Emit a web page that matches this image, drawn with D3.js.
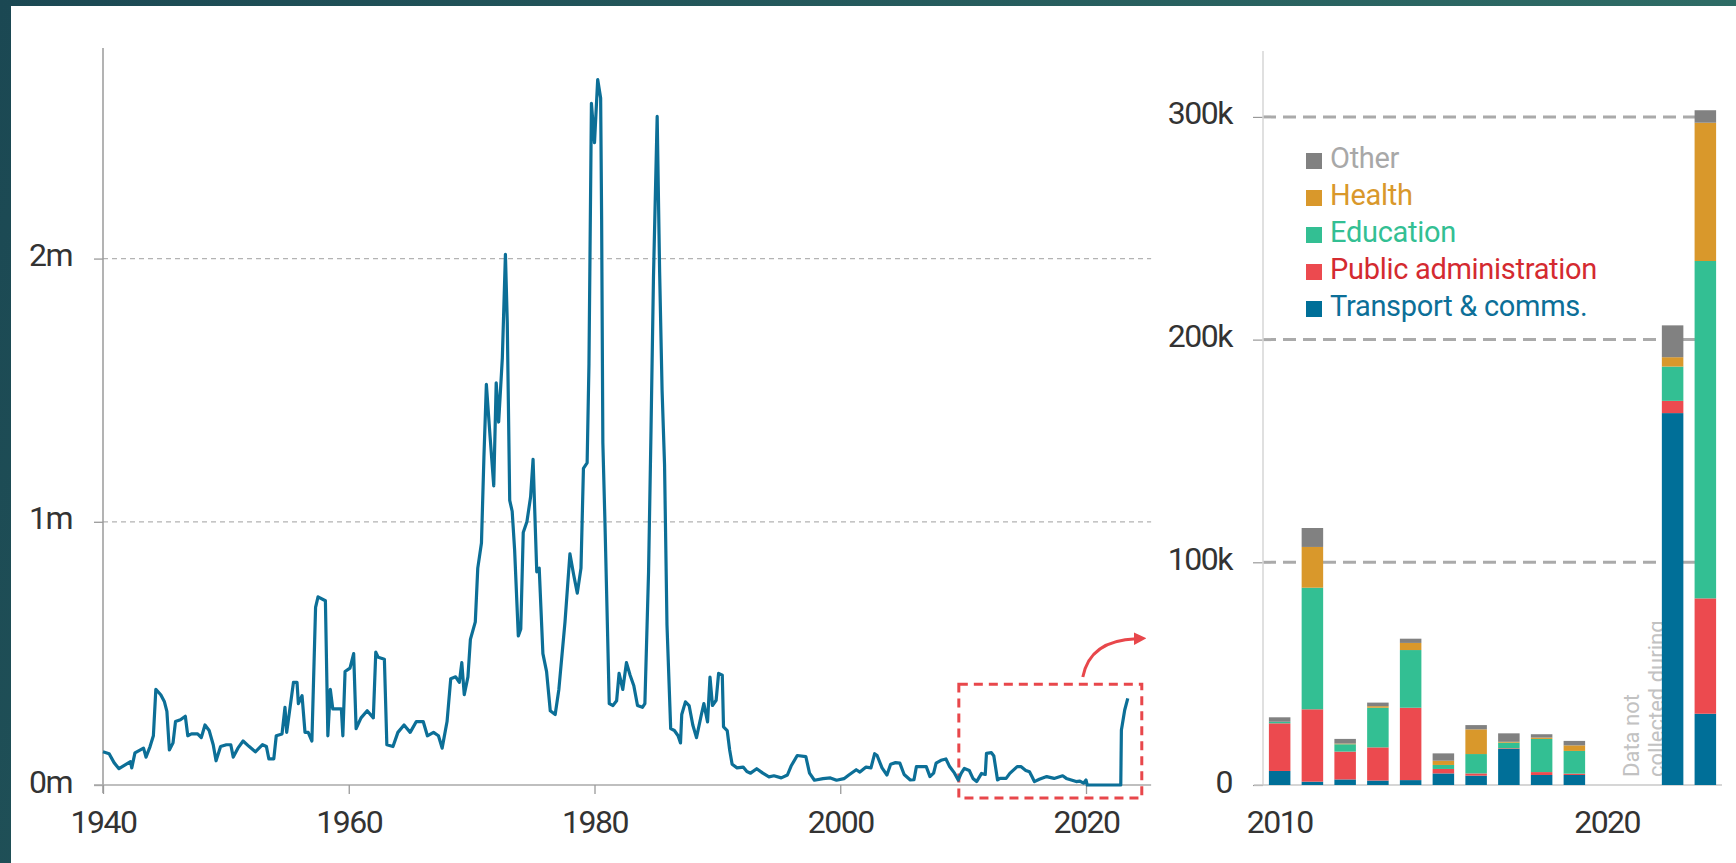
<!DOCTYPE html>
<html>
<head>
<meta charset="utf-8">
<script src="https://cdn.jsdelivr.net/npm/d3@7"></script>
<style>
  html, body { margin: 0; padding: 0; background: #fff; }
  svg { display: block; }
  text { font-family: Roboto, "Noto Sans", sans-serif; font-weight: 400; }
</style>
</head>
<body>
<svg id="chart" width="1736" height="863"></svg>
<script>
// ---- Long-run series (millions), 1940–2023 ----
const lineYears = [
  1940.0, 1940.5, 1940.9, 1941.3, 1941.9, 1942.24, 1942.34, 1942.6, 1943.3, 1943.5, 1943.83, 1944.1, 1944.3, 1944.7,
  1945.0, 1945.2, 1945.4, 1945.7, 1945.9, 1946.3, 1946.7, 1946.9, 1947.2, 1947.7, 1948.0, 1948.3, 1948.64, 1948.97,
  1949.2, 1949.57, 1950.04, 1950.4, 1950.6, 1950.98, 1951.4, 1951.9, 1952.4, 1952.98, 1953.3, 1953.5, 1953.9, 1954.1,
  1954.57, 1954.81, 1954.95, 1955.5, 1955.79, 1955.9, 1956.2, 1956.44, 1956.7, 1957.0, 1957.3, 1957.5, 1958.1, 1958.3,
  1958.5, 1958.7, 1959.4, 1959.52, 1959.7, 1960.1, 1960.4, 1960.6, 1961.0, 1961.5, 1962.0, 1962.2, 1962.4, 1962.9,
  1963.1, 1963.6, 1964.0, 1964.5, 1965.0, 1965.5, 1966.06, 1966.4, 1966.9, 1967.3, 1967.6, 1968.0, 1968.3, 1968.7,
  1969.0, 1969.2, 1969.4, 1969.7, 1969.9, 1970.3, 1970.5, 1970.8, 1971.0, 1971.2, 1971.5, 1971.8, 1972.0, 1972.2,
  1972.5, 1972.75, 1972.9, 1973.1, 1973.3, 1973.5, 1973.8, 1974.0, 1974.2, 1974.5, 1974.8, 1975.0, 1975.3, 1975.5,
  1975.8, 1976.1, 1976.4, 1976.8, 1977.1, 1977.6, 1978.0, 1978.3, 1978.6, 1978.9, 1979.1, 1979.4, 1979.55, 1979.75,
  1980.0, 1980.26, 1980.5, 1980.58, 1980.68, 1980.85, 1981.2, 1981.5, 1981.8, 1982.0, 1982.3, 1982.6, 1982.9, 1983.2,
  1983.5, 1983.9, 1984.1, 1984.4, 1984.6, 1984.8, 1985.1, 1985.3, 1985.5, 1985.7, 1985.9, 1986.2, 1986.5, 1986.8,
  1987.0, 1987.1, 1987.4, 1987.7, 1988.0, 1988.3, 1988.7, 1988.9, 1989.2, 1989.4, 1989.6, 1989.9, 1990.1, 1990.4,
  1990.5, 1990.8, 1991.0, 1991.2, 1991.6, 1992.1, 1992.4, 1992.7, 1993.2, 1993.7, 1994.2, 1994.6, 1995.2, 1995.7,
  1996.0, 1996.5, 1997.2, 1997.5, 1997.9, 1998.6, 1999.2, 1999.7, 2000.3, 2000.7, 2001.3, 2001.6, 2002.1, 2002.5,
  2002.8, 2003.0, 2003.4, 2003.8, 2004.1, 2004.5, 2004.85, 2005.2, 2005.7, 2006.0, 2006.2, 2007.0, 2007.3, 2007.6,
  2007.8, 2008.2, 2008.6, 2008.9, 2009.3, 2009.6, 2009.85, 2010.1, 2010.5, 2010.8, 2011.1, 2011.5, 2011.8, 2011.9,
  2012.3, 2012.5, 2012.8, 2013.0, 2013.5, 2013.8, 2014.4, 2014.7, 2015.1, 2015.4, 2015.6, 2015.8, 2016.2, 2016.8,
  2017.4, 2018.1, 2018.4, 2018.8, 2019.2, 2019.5, 2019.8, 2020.0, 2020.1, 2022.83, 2022.88, 2022.95, 2023.15, 2023.4
];
const lineValues = [
  0.126, 0.119, 0.085, 0.062, 0.079, 0.089, 0.065, 0.122, 0.140, 0.106, 0.146, 0.187, 0.363, 0.343,
  0.316, 0.280, 0.133, 0.160, 0.241, 0.248, 0.261, 0.187, 0.194, 0.194, 0.180, 0.228, 0.207, 0.153,
  0.092, 0.146, 0.153, 0.153, 0.106, 0.140, 0.167, 0.146, 0.126, 0.153, 0.146, 0.099, 0.099, 0.187,
  0.194, 0.295, 0.200, 0.390, 0.390, 0.309, 0.339, 0.200, 0.200, 0.167, 0.675, 0.715, 0.700, 0.187,
  0.363, 0.289, 0.289, 0.187, 0.431, 0.444, 0.499, 0.214, 0.255, 0.282, 0.255, 0.505, 0.485, 0.478,
  0.153, 0.146, 0.200, 0.228, 0.200, 0.241, 0.241, 0.187, 0.200, 0.187, 0.140, 0.241, 0.404, 0.411,
  0.390, 0.465, 0.343, 0.411, 0.553, 0.620, 0.824, 0.919, 1.244, 1.522, 1.325, 1.136, 1.528, 1.379,
  1.623, 2.016, 1.759, 1.081, 1.040, 0.892, 0.566, 0.593, 0.959, 1.000, 1.095, 1.237, 0.810, 0.824,
  0.499, 0.431, 0.282, 0.268, 0.363, 0.620, 0.878, 0.800, 0.729, 0.824, 1.203, 1.224, 1.600, 2.590,
  2.440, 2.680, 2.610, 2.150, 1.300, 1.000, 0.309, 0.302, 0.320, 0.424, 0.363, 0.465, 0.417, 0.377,
  0.302, 0.295, 0.309, 0.810, 1.350, 1.930, 2.540, 1.950, 1.500, 1.217, 0.607, 0.214, 0.207, 0.187,
  0.160, 0.268, 0.316, 0.302, 0.228, 0.180, 0.268, 0.309, 0.240, 0.410, 0.302, 0.322, 0.424, 0.417,
  0.221, 0.207, 0.133, 0.079, 0.065, 0.068, 0.051, 0.045, 0.062, 0.045, 0.031, 0.035, 0.027, 0.038,
  0.072, 0.112, 0.108, 0.045, 0.018, 0.024, 0.027, 0.018, 0.024, 0.038, 0.058, 0.049, 0.068, 0.065,
  0.119, 0.112, 0.065, 0.038, 0.079, 0.085, 0.083, 0.040, 0.019, 0.020, 0.070, 0.070, 0.032, 0.045,
  0.083, 0.094, 0.099, 0.070, 0.045, 0.019, 0.045, 0.063, 0.055, 0.025, 0.013, 0.044, 0.040, 0.120,
  0.123, 0.110, 0.019, 0.025, 0.025, 0.044, 0.070, 0.070, 0.055, 0.050, 0.032, 0.013, 0.022, 0.032,
  0.025, 0.035, 0.025, 0.019, 0.013, 0.015, 0.007, 0.019, 0.000, 0.000, 0.209, 0.228, 0.285, 0.329
];
const leftYTicks = [0, 1, 2];
const leftYTickLabels = ["0m", "1m", "2m"];
const leftXTicks = [1940, 1960, 1980, 2000, 2020];

// ---- Recent years by sector (thousands); 2020–2021 not collected ----
const barYears = [2010, 2011, 2012, 2013, 2014, 2015, 2016, 2017, 2018, 2019, 2020, 2021, 2022, 2023];
const transport   = [6.3, 1.5, 2.5, 2.0, 2.2, 5.2, 4.2, 16.2, 4.5, 4.5, null, null, 167.0, 32.0];
const publicAdmin = [21.4, 32.5, 12.5, 14.9, 32.5, 2.0, 1.0, 0.3, 1.3, 0.6, null, null, 5.5, 51.8];
const education   = [0.7, 54.6, 3.3, 17.8, 25.9, 1.8, 8.7, 2.5, 14.9, 10.2, null, null, 15.4, 151.5];
const health      = [0.0, 18.3, 0.3, 0.7, 3.2, 1.9, 11.1, 0.4, 0.6, 2.5, null, null, 4.2, 62.1];
const other       = [2.0, 8.5, 2.1, 1.6, 1.9, 3.3, 1.9, 3.8, 1.5, 2.0, null, null, 14.3, 5.6];
const rightYTicks = [0, 100, 200, 300];
const rightYTickLabels = ["0", "100k", "200k", "300k"];
const rightXTicks = [2010, 2020];

const seriesKeys   = ["transport", "publicAdmin", "education", "health", "other"];
const seriesLabels = ["Transport & comms.", "Public administration", "Education", "Health", "Other"];
const seriesFill   = ["#006f98", "#ec4a4f", "#33bf93", "#d9982b", "#818181"];
const seriesText   = ["#0c6f98", "#d42a30", "#33bf93", "#d9982b", "#a8a8a8"];
const noteLines    = ["Data not", "collected during"];

// ---- Drawing ----
const svg = d3.select("#chart");

// slide frame
const defs = svg.append("defs");
const grad = defs.append("linearGradient").attr("id", "frame").attr("x1", 0).attr("y1", 0).attr("x2", 1).attr("y2", 0.2);
grad.append("stop").attr("offset", 0).attr("stop-color", "#1b4853");
grad.append("stop").attr("offset", 1).attr("stop-color", "#2f6d66");
svg.append("rect").attr("width", 1736).attr("height", 863).attr("fill", "url(#frame)");
svg.append("rect").attr("x", 11).attr("y", 6).attr("width", 1725).attr("height", 857).attr("fill", "#fff");

const labelSize = 32;
const labelSpacing = -1.5;
const labelColor = "#333";

// ===== Left: long-run line =====
const xL = d3.scaleLinear().domain([1940, 2020]).range([103, 1086]);
const yL = d3.scaleLinear().domain([0, 2.8]).range([785, 48]);
const xLEnd = xL(2025.3);
const gL = svg.append("g");

// gridlines
gL.selectAll("line.grid").data(leftYTicks.filter(t => t > 0)).join("line")
  .attr("x1", xL(1940)).attr("x2", xLEnd)
  .attr("y1", d => yL(d)).attr("y2", d => yL(d))
  .attr("stroke", "#b3b3b3").attr("stroke-width", 1.3).attr("stroke-dasharray", "5,4");
// y axis (ticks + labels)
const yAxisL = d3.axisLeft(yL).tickValues(leftYTicks).tickSize(9)
  .tickFormat((d, i) => leftYTickLabels[i]);
const yAxG = gL.append("g").attr("transform", `translate(${xL(1940)},0)`).call(yAxisL);
yAxG.select(".domain").remove();
yAxG.selectAll(".tick line").attr("stroke", "#9a9a9a").attr("stroke-width", 1.3);
yAxG.selectAll(".tick text").attr("x", -31).attr("dy", null).attr("y", 7)
  .attr("font-size", labelSize).attr("letter-spacing", labelSpacing).attr("fill", labelColor)
  .attr("font-family", "Roboto").attr("font-weight", 400);
// vertical axis line
gL.append("line").attr("x1", xL(1940)).attr("x2", xL(1940)).attr("y1", yL(2.8)).attr("y2", yL(0) + 8)
  .attr("stroke", "#9a9a9a").attr("stroke-width", 1.5);
// baseline
gL.append("line").attr("x1", xL(1940) - 9).attr("x2", xLEnd).attr("y1", yL(0)).attr("y2", yL(0))
  .attr("stroke", "#aaa").attr("stroke-width", 1.5);
// x axis
const xAxisL = d3.axisBottom(xL).tickValues(leftXTicks).tickSize(9).tickFormat(d3.format("d"));
const xAxG = gL.append("g").attr("transform", `translate(0,${yL(0)})`).call(xAxisL);
xAxG.select(".domain").remove();
xAxG.selectAll(".tick line").attr("stroke", "#9a9a9a").attr("stroke-width", 1.3);
xAxG.selectAll(".tick text").attr("y", 48).attr("dy", null)
  .attr("font-size", labelSize).attr("letter-spacing", labelSpacing).attr("fill", labelColor)
  .attr("font-family", "Roboto").attr("font-weight", 400);

// zoom box and arrow
gL.append("rect")
  .attr("x", xL(2009.65)).attr("y", yL(0.383))
  .attr("width", xL(2024.54) - xL(2009.65)).attr("height", yL(-0.049) - yL(0.383))
  .attr("fill", "none").attr("stroke", "#e8474b").attr("stroke-width", 3).attr("stroke-dasharray", "9,6");
defs.append("marker").attr("id", "arrowHead").attr("viewBox", "0 0 10 10")
  .attr("refX", 2).attr("refY", 5).attr("markerWidth", 4.2).attr("markerHeight", 4.2)
  .attr("orient", "auto").attr("markerUnits", "strokeWidth")
  .append("path").attr("d", "M0,0 L10,5 L0,10 z").attr("fill", "#e8474b");
const arrowPath = d3.path();
arrowPath.moveTo(xL(2019.74), yL(0.41));
arrowPath.quadraticCurveTo(xL(2020.3), yL(0.55), xL(2024.1), yL(0.556));
gL.append("path").attr("d", arrowPath.toString()).attr("fill", "none")
  .attr("stroke", "#e8474b").attr("stroke-width", 3).attr("marker-end", "url(#arrowHead)");

// the line
const lineData = lineYears.map((yr, i) => [yr, lineValues[i]]);
gL.append("path").datum(lineData)
  .attr("d", d3.line().x(d => xL(d[0])).y(d => yL(d[1])))
  .attr("fill", "none").attr("stroke", "#0c6f97").attr("stroke-width", 3.2)
  .attr("stroke-linejoin", "round");

// ===== Right: stacked bars by sector =====
const xR = d3.scaleBand().domain(barYears).range([1263, 1722]).paddingInner(0.343).paddingOuter(0.18);
const yR = d3.scaleLinear().domain([0, 329.6]).range([785, 51]);
const gR = svg.append("g");

gR.selectAll("line.grid").data(rightYTicks.filter(t => t > 0)).join("line")
  .attr("x1", 1263).attr("x2", 1722)
  .attr("y1", d => yR(d)).attr("y2", d => yR(d))
  .attr("stroke", "#aaa").attr("stroke-width", 3).attr("stroke-dasharray", "13,7");
const yAxisR = d3.axisLeft(yR).tickValues(rightYTicks).tickSize(10)
  .tickFormat((d, i) => rightYTickLabels[i]);
const yAxRG = gR.append("g").attr("transform", "translate(1263,0)").call(yAxisR);
yAxRG.select(".domain").remove();
yAxRG.selectAll(".tick line").attr("stroke", "#999").attr("stroke-width", 1.2);
yAxRG.selectAll(".tick text").attr("x", -31).attr("dy", null).attr("y", 7)
  .attr("font-size", labelSize).attr("letter-spacing", labelSpacing).attr("fill", labelColor)
  .attr("font-family", "Roboto").attr("font-weight", 400);
gR.append("line").attr("x1", 1263).attr("x2", 1263).attr("y1", yR(329.6)).attr("y2", yR(0))
  .attr("stroke", "#d6d6d6").attr("stroke-width", 1.5);
gR.append("line").attr("x1", 1254).attr("x2", 1722).attr("y1", yR(0)).attr("y2", yR(0))
  .attr("stroke", "#c8c8c8").attr("stroke-width", 1.5);

// x labels
gR.selectAll("text.xlab").data(rightXTicks).join("text")
  .attr("x", d => xR(d) + xR.bandwidth() / 2).attr("y", yR(0) + 48)
  .attr("text-anchor", "middle").attr("font-size", labelSize).attr("letter-spacing", labelSpacing)
  .attr("fill", labelColor).text(d => d);

// note for the missing years (drawn beneath the bars)
const noteX = xR(2021) + xR.bandwidth() / 2 - 1;
gR.selectAll("text.note").data(noteLines).join("text")
  .attr("transform", (d, i) => `translate(${noteX + i * 25},${yR(0) - 8}) rotate(-90)`)
  .attr("font-size", 22).attr("font-weight", 300).attr("fill", "#c2c2c2").text(d => d);

// legend
const legend = gR.append("g");
const legendOrder = d3.range(seriesKeys.length).reverse();
legendOrder.forEach((k, row) => {
  const y = 153 + row * 37;
  legend.append("rect").attr("x", 1306).attr("y", y).attr("width", 16).attr("height", 16)
    .attr("fill", seriesFill[k]);
  legend.append("text").attr("x", 1330).attr("y", y + 15)
    .attr("font-size", 29).attr("letter-spacing", -0.3).attr("fill", seriesText[k])
    .text(seriesLabels[k]);
});

// bars
const barTable = barYears.map((yr, i) => ({
  year: yr, transport: transport[i], publicAdmin: publicAdmin[i],
  education: education[i], health: health[i], other: other[i]
})).filter(d => d.transport !== null);
const stacked = d3.stack().keys(seriesKeys)(barTable);
gR.selectAll("g.layer").data(stacked).join("g")
  .attr("fill", (d, i) => seriesFill[i])
  .selectAll("rect").data(d => d).join("rect")
  .attr("x", d => xR(d.data.year)).attr("width", xR.bandwidth())
  .attr("y", d => yR(d[1])).attr("height", d => yR(d[0]) - yR(d[1]));
</script>
</body>
</html>
